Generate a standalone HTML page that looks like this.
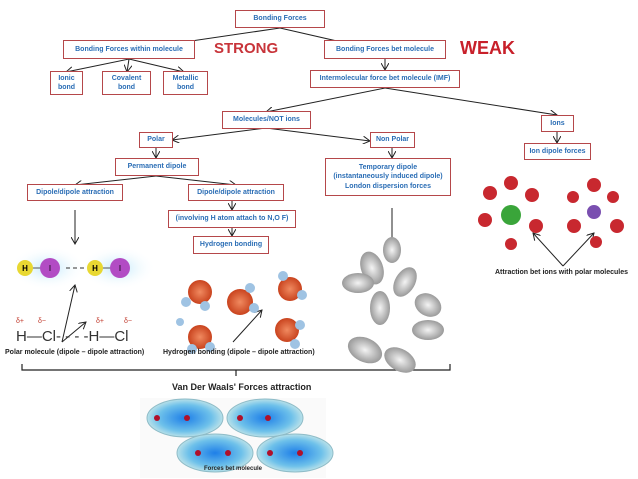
<!DOCTYPE html>
<html><head><style>
body{margin:0;width:638px;height:479px;background:#fff;position:relative;overflow:hidden;font-family:"Liberation Sans",sans-serif}
.b{position:absolute;border:1.5px solid #b5474a;color:#2a6db5;font-size:7px;font-weight:bold;text-align:center;display:flex;align-items:center;justify-content:center;box-sizing:border-box;line-height:1.35;background:#fff}
.t{position:absolute;font-size:7px;font-weight:bold;color:#222;white-space:nowrap}
</style></head><body>
<svg width="638" height="479" style="position:absolute;left:0;top:0">
<defs><marker id="a" markerWidth="8" markerHeight="8" refX="7" refY="4" orient="auto"><path d="M0,0 L7,4 L0,8" fill="none" stroke="#222" stroke-width="1"/></marker>
<radialGradient id="bl"><stop offset="0" stop-color="#1e7fe8"/><stop offset="0.7" stop-color="#6ec1ea"/><stop offset="1" stop-color="#b9e1e9"/></radialGradient>
<radialGradient id="gr"><stop offset="0" stop-color="#f4f4f4"/><stop offset="1" stop-color="#9a9a9a"/></radialGradient>
<radialGradient id="or"><stop offset="0" stop-color="#f08a60"/><stop offset="1" stop-color="#c9431e"/></radialGradient>
<radialGradient id="cy"><stop offset="0" stop-color="#bfe8fb"/><stop offset="1" stop-color="#fff" stop-opacity="0"/></radialGradient>
</defs>
<g stroke="#222" stroke-width="1" fill="none" marker-end="url(#a)">
<line x1="280" y1="28" x2="130" y2="50"/>
<line x1="280" y1="28" x2="385" y2="52"/>
<line x1="129" y1="59" x2="66" y2="72"/>
<line x1="129" y1="59" x2="127" y2="72"/>
<line x1="129" y1="59" x2="184" y2="72"/>
<line x1="385" y1="59" x2="385" y2="70"/>
<line x1="385" y1="88" x2="266" y2="112"/>
<line x1="385" y1="88" x2="557" y2="115"/>
<line x1="266" y1="128" x2="172" y2="140"/>
<line x1="266" y1="128" x2="370" y2="141"/>
<line x1="557" y1="132" x2="557" y2="143"/>
<line x1="156" y1="148" x2="156" y2="158"/>
<line x1="392" y1="148" x2="392" y2="158"/>
<line x1="156" y1="176" x2="75" y2="185"/>
<line x1="156" y1="176" x2="236" y2="185"/>
<line x1="232" y1="201" x2="232" y2="210"/>
<line x1="232" y1="228" x2="232" y2="236"/>
<line x1="75" y1="210" x2="75" y2="244"/>
<line x1="392" y1="208" x2="392" y2="248"/>
<line x1="62" y1="342" x2="75" y2="285"/>
<line x1="62" y1="342" x2="86" y2="322"/>
<line x1="233" y1="342" x2="262" y2="310"/>
<line x1="563" y1="266" x2="533" y2="233"/>
<line x1="563" y1="266" x2="594" y2="233"/>
<line x1="250" y1="460" x2="252" y2="446"/>
</g>
<path d="M22,364 V370 H450 V364 M236,370 V376" stroke="#222" stroke-width="1.2" fill="none"/>
<!-- HI -->
<ellipse cx="48" cy="268" rx="38" ry="22" fill="url(#cy)"/><ellipse cx="118" cy="268" rx="38" ry="22" fill="url(#cy)"/>
<line x1="25" y1="268" x2="50" y2="268" stroke="#555"/><line x1="95" y1="268" x2="120" y2="268" stroke="#555"/>
<line x1="66" y1="268" x2="86" y2="268" stroke="#333" stroke-dasharray="4,3"/>
<circle cx="25" cy="268" r="8" fill="#e8d832"/><circle cx="50" cy="268" r="10" fill="#b24cc4"/>
<circle cx="95" cy="268" r="8" fill="#e8d832"/><circle cx="120" cy="268" r="10" fill="#b24cc4"/>
<text x="25" y="271" font-size="8" text-anchor="middle" font-weight="bold">H</text><text x="50" y="271" font-size="8" text-anchor="middle">I</text>
<text x="95" y="271" font-size="8" text-anchor="middle" font-weight="bold">H</text><text x="120" y="271" font-size="8" text-anchor="middle">I</text>
<g font-size="7" fill="#c0392b"><text x="16" y="323">δ+</text><text x="38" y="323">δ−</text><text x="96" y="323">δ+</text><text x="124" y="323">δ−</text></g>
<text x="16" y="341" font-size="15" fill="#333">H—Cl- - - -H—Cl</text>
<!-- water -->
<g><circle cx="200" cy="292" r="12" fill="url(#or)"/><circle cx="240" cy="302" r="13" fill="url(#or)"/><circle cx="290" cy="289" r="12" fill="url(#or)"/><circle cx="200" cy="337" r="12" fill="url(#or)"/><circle cx="287" cy="330" r="12" fill="url(#or)"/>
<g fill="#9fc3e3"><circle cx="186" cy="302" r="5"/><circle cx="205" cy="306" r="5"/><circle cx="250" cy="288" r="5"/><circle cx="254" cy="308" r="5"/><circle cx="302" cy="295" r="5"/><circle cx="283" cy="276" r="5"/><circle cx="192" cy="349" r="5"/><circle cx="210" cy="347" r="5"/><circle cx="300" cy="325" r="5"/><circle cx="295" cy="344" r="5"/><circle cx="180" cy="322" r="4"/></g></g>
<!-- nonpolar -->
<g fill="url(#gr)"><ellipse cx="372" cy="268" rx="11" ry="17" transform="rotate(-20 372 268)"/><ellipse cx="405" cy="282" rx="10" ry="16" transform="rotate(30 405 282)"/><ellipse cx="358" cy="283" rx="16" ry="10"/><ellipse cx="380" cy="308" rx="10" ry="17"/><ellipse cx="428" cy="305" rx="14" ry="11" transform="rotate(30 428 305)"/><ellipse cx="365" cy="350" rx="18" ry="12" transform="rotate(25 365 350)"/><ellipse cx="428" cy="330" rx="16" ry="10"/><ellipse cx="400" cy="360" rx="17" ry="11" transform="rotate(30 400 360)"/><ellipse cx="392" cy="250" rx="9" ry="13"/></g>
<!-- ions -->
<circle cx="511" cy="215" r="10" fill="#3aa53a"/><circle cx="594" cy="212" r="7" fill="#7a4fb0"/>
<g fill="#c8282f"><circle cx="511" cy="183" r="7"/><circle cx="490" cy="193" r="7"/><circle cx="532" cy="195" r="7"/><circle cx="485" cy="220" r="7"/><circle cx="536" cy="226" r="7"/><circle cx="511" cy="244" r="6"/><circle cx="594" cy="185" r="7"/><circle cx="573" cy="197" r="6"/><circle cx="613" cy="197" r="6"/><circle cx="574" cy="226" r="7"/><circle cx="617" cy="226" r="7"/><circle cx="596" cy="242" r="6"/></g>
<!-- VdW -->
<rect x="140" y="398" width="186" height="80" fill="#fafafa"/>
<ellipse cx="185" cy="418" rx="38" ry="19" fill="url(#bl)" stroke="#8fbcc8"/><ellipse cx="265" cy="418" rx="38" ry="19" fill="url(#bl)" stroke="#8fbcc8"/>
<ellipse cx="215" cy="453" rx="38" ry="19" fill="url(#bl)" stroke="#8fbcc8"/><ellipse cx="295" cy="453" rx="38" ry="19" fill="url(#bl)" stroke="#8fbcc8"/>
<g fill="#b0102a"><circle cx="157" cy="418" r="3"/><circle cx="187" cy="418" r="3"/><circle cx="240" cy="418" r="3"/><circle cx="268" cy="418" r="3"/><circle cx="198" cy="453" r="3"/><circle cx="228" cy="453" r="3"/><circle cx="270" cy="453" r="3"/><circle cx="300" cy="453" r="3"/></g>
</svg>
<div class="b" style="left:235px;top:10px;width:90px;height:18px">Bonding Forces</div>
<div class="b" style="left:63px;top:40px;width:132px;height:19px">Bonding Forces within molecule</div>
<div style="position:absolute;left:214px;top:40px;font:bold 15px 'Liberation Sans',sans-serif;color:#c8343a">STRONG</div>
<div class="b" style="left:324px;top:40px;width:122px;height:19px">Bonding Forces bet molecule</div>
<div style="position:absolute;left:460px;top:38px;font:bold 18px 'Liberation Sans',sans-serif;color:#c8202a">WEAK</div>
<div class="b" style="left:50px;top:71px;width:33px;height:24px">Ionic<br>bond</div>
<div class="b" style="left:102px;top:71px;width:49px;height:24px">Covalent<br>bond</div>
<div class="b" style="left:163px;top:71px;width:45px;height:24px">Metallic<br>bond</div>
<div class="b" style="left:310px;top:70px;width:150px;height:18px">Intermolecular force bet molecule (IMF)</div>
<div class="b" style="left:222px;top:111px;width:89px;height:18px">Molecules/NOT ions</div>
<div class="b" style="left:541px;top:115px;width:33px;height:17px">Ions</div>
<div class="b" style="left:139px;top:132px;width:34px;height:16px">Polar</div>
<div class="b" style="left:370px;top:132px;width:45px;height:16px">Non Polar</div>
<div class="b" style="left:524px;top:143px;width:67px;height:17px">Ion dipole forces</div>
<div class="b" style="left:115px;top:158px;width:84px;height:18px">Permanent dipole</div>
<div class="b" style="left:325px;top:158px;width:126px;height:38px">Temporary dipole<br>(instantaneously induced dipole)<br>London dispersion forces</div>
<div class="b" style="left:27px;top:184px;width:96px;height:17px">Dipole/dipole attraction</div>
<div class="b" style="left:188px;top:184px;width:96px;height:17px">Dipole/dipole attraction</div>
<div class="b" style="left:168px;top:210px;width:128px;height:18px">(involving H atom attach to N,O F)</div>
<div class="b" style="left:193px;top:236px;width:76px;height:18px">Hydrogen bonding</div>
<div class="t" style="left:5px;top:349px">Polar molecule (dipole – dipole attraction)</div>
<div class="t" style="left:163px;top:349px">Hydrogen bonding (dipole – dipole attraction)</div>
<div class="t" style="left:495px;top:269px">Attraction bet ions with polar molecules</div>
<div class="t" style="left:172px;top:382px;font-size:9px">Van Der Waals' Forces attraction</div>
<div class="t" style="left:204px;top:466px;font-size:6px">Forces bet molecule</div>
</body></html>
